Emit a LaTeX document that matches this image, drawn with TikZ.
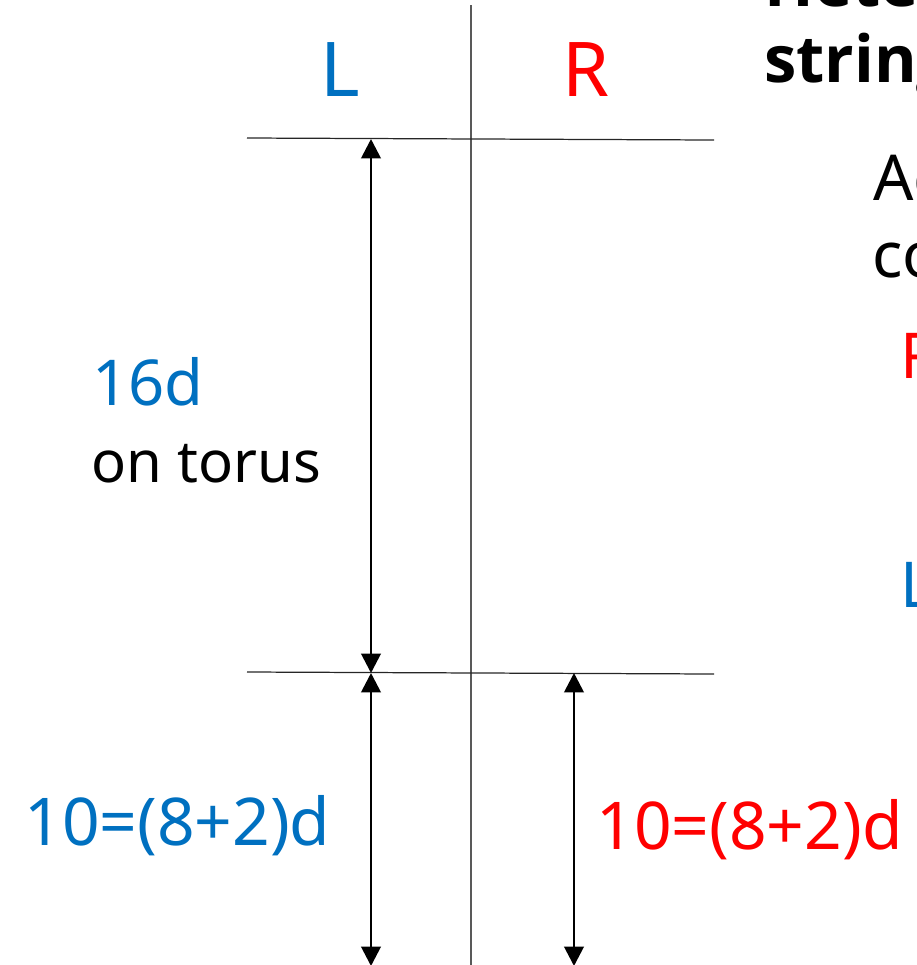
\documentclass[tikz,border=0pt]{standalone}
\usepackage{fontspec}
\setmainfont{Noto Sans}
\newfontfamily\titlefont{Open Sans}
\usetikzlibrary{arrows.meta}
\definecolor{lside}{RGB}{0,112,192}
\definecolor{rside}{RGB}{255,0,0}

\begin{document}
\begin{tikzpicture}[
  x=0.02cm, y=-0.02cm,
  every node/.style={inner sep=0pt, anchor=base west,
                     font=\fontsize{36}{43}\selectfont},
  headlabel/.style={font=\fontsize{43}{50}\selectfont},
  wordlabel/.style={font=\fontsize{33}{40}\selectfont},
  eqlabel/.style={font=\fontsize{37.5}{44}\selectfont},
  titlelabel/.style={font=\fontsize{37}{44}\titlefont\bfseries},
  splitline/.style={draw=black!65, line width=1.1pt},
  levelline/.style={draw=black!85, line width=0.7pt},
  dimarrow/.style={{Triangle[width=11pt,length=11pt]}-{Triangle[width=11pt,length=11pt]},
                   line width=1.6pt},
]
\useasboundingbox (0,0) rectangle (917,965);
\clip (0,0) rectangle (917,965);

% frame lines
\coordinate (splittop) at (471,5);
\coordinate (splitbot) at (471,970);
\coordinate (upw) at (247,138);
\coordinate (upe) at (714,140);
\coordinate (lowW) at (247,672);
\coordinate (lowE) at (714,674);
\draw[splitline] (splittop) -- (splitbot);
\draw[levelline] (upw) -- (upe);
\draw[levelline] (lowW) -- (lowE);

% column heads
\node[headlabel, text=lside] (headL) at (320,96) {L};
\node[headlabel, text=rside] (headR) at (562,96) {R};

% dimension arrows
\coordinate (a1top) at (371,139);
\coordinate (a1bot) at (371,673);
\coordinate (a2bot) at (371,966);
\coordinate (a3top) at (574,673);
\coordinate (a3bot) at (574,966);
\draw[dimarrow] (a1top) -- (a1bot);
\draw[dimarrow] (a1bot) -- (a2bot);
\draw[dimarrow] (a3top) -- (a3bot);

% labels
\node[text=lside] (torusdim) at (92,405) {16d};
\node[wordlabel] (torustxt) at (91,482) {on torus};
\node[eqlabel, text=lside] (leftdim) at (24,845) {10=(8+2)d};
\node[eqlabel, text=rside] (rightdim) at (596,849) {10=(8+2)d};

% text at the right edge
\node[titlelabel] (title1) at (764,6) {Hete};
\node[titlelabel] (title2) at (764,82) {string};
\node (note1) at (873,200) {Ac};
\node (note2) at (872,277) {co};
\node[text=rside] (noteR) at (900,378) {R};
\node[text=lside] (noteL) at (900,607) {L};

\end{tikzpicture}
\end{document}
